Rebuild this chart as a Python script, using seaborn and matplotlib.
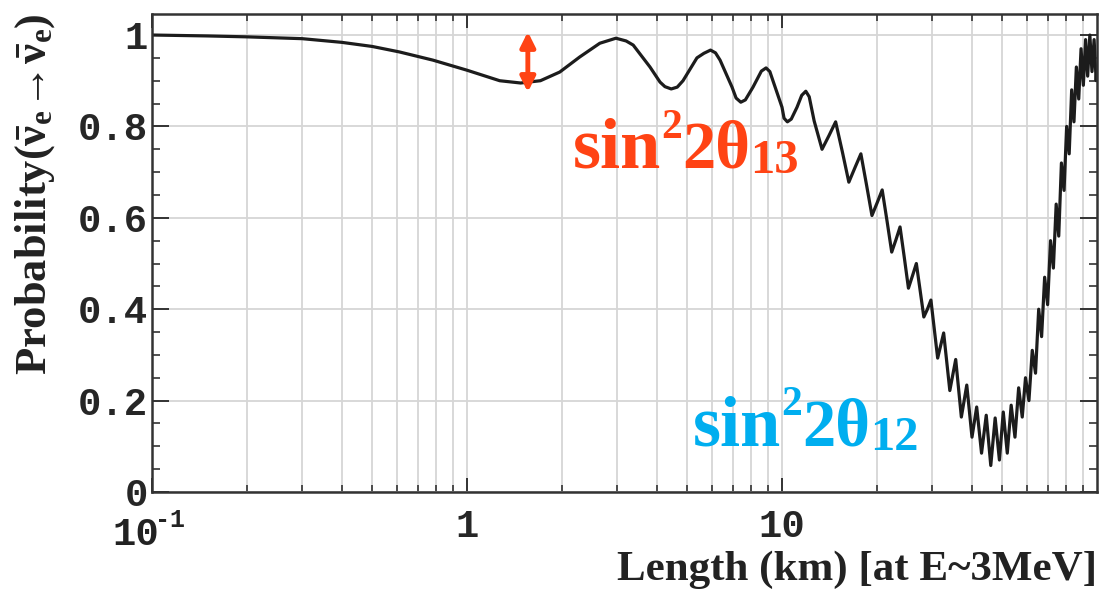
import numpy as np
import pandas as pd
import seaborn as sns
import matplotlib.pyplot as plt
import matplotlib.ticker as mticker

# survival probability, three stretches of the curve
near_km = [0.1, 0.15, 0.2, 0.3, 0.4, 0.5, 0.61, 0.78, 1.0, 1.27, 1.48, 1.71, 1.97,
           2.28, 2.64, 2.97, 3.2, 3.37, 3.81, 4.1, 4.25, 4.45, 4.65, 4.85, 5.37,
           5.65, 5.93, 6.15, 6.36, 6.94, 7.15, 7.4, 7.65, 8.09, 8.6, 8.9, 9.15,
           9.36, 10.0, 10.15, 10.4, 10.7, 11.16, 11.55, 11.9, 12.2]
near_prob = [1.0, 0.998, 0.996, 0.992, 0.984, 0.975, 0.963, 0.945, 0.923, 0.90,
             0.895, 0.90, 0.919, 0.952, 0.982, 0.993, 0.987, 0.978, 0.93, 0.897,
             0.887, 0.882, 0.886, 0.90, 0.95, 0.960, 0.967, 0.961, 0.945, 0.886,
             0.862, 0.853, 0.858, 0.886, 0.921, 0.928, 0.920, 0.90, 0.842, 0.818,
             0.81, 0.816, 0.842, 0.868, 0.877, 0.865]

mid_km = [12.65, 13.4, 14.1, 14.8, 15.55, 16.3, 17.05, 17.8, 18.55, 19.3, 20.05,
          20.8, 21.55, 22.3, 23.0, 23.7, 24.45, 25.2, 25.95, 26.7, 27.45, 28.2,
          28.95]
mid_prob = [0.812, 0.75, 0.78, 0.81, 0.744, 0.678, 0.71, 0.74, 0.672, 0.605, 0.633,
            0.661, 0.593, 0.525, 0.552, 0.58, 0.513, 0.446, 0.473, 0.50, 0.441,
            0.383, 0.40]

far_km = [29.7, 31.2, 32.6, 34.1, 35.6, 37.1, 38.6, 40.1, 41.5, 43.0, 44.5, 46.0,
          47.5, 49.0, 50.4, 51.9, 53.4, 54.9, 56.4, 57.9, 59.3, 60.8, 62.3, 63.8,
          65.3, 66.7, 68.2, 69.7, 71.2, 72.7, 74.2, 75.6, 77.1, 78.6, 80.1, 81.6,
          83.1, 84.5, 86.0, 87.5, 89.0, 90.5, 92.0, 93.4, 94.9, 96.4, 97.9, 99.4,
          100.0]
far_prob = [0.42, 0.293, 0.348, 0.222, 0.29, 0.164, 0.234, 0.12, 0.186, 0.085,
            0.168, 0.058, 0.162, 0.07, 0.175, 0.085, 0.19, 0.12, 0.228, 0.164,
            0.25, 0.20, 0.31, 0.26, 0.40, 0.34, 0.47, 0.41, 0.55, 0.49, 0.63, 0.56,
            0.72, 0.66, 0.80, 0.74, 0.88, 0.81, 0.93, 0.86, 0.97, 0.89, 0.99, 0.91,
            1.0, 0.92, 0.99, 0.90, 0.93]

y_ticks = [0, 0.2, 0.4, 0.6, 0.8, 1.0]
y_labels = ["0", "0.2", "0.4", "0.6", "0.8", "1"]
x_ticks = [0.1, 1, 10]
x_labels = ["", "1", "10"]   # 10^-1 is written by hand below

red = "#ff4314"
cyan = "#00aeef"
mono = ["Liberation Mono", "DejaVu Sans Mono"]

sns.set_style("ticks")
plt.rcParams["mathtext.fontset"] = "custom"
plt.rcParams["mathtext.rm"] = "Liberation Serif:bold"
plt.rcParams["mathtext.it"] = "Liberation Serif:bold"
plt.rcParams["mathtext.bf"] = "Liberation Serif:bold"

W, H = 1104, 590
fig = plt.figure(figsize=(W / 100, H / 100), dpi=100)
ax = fig.add_axes([152 / W, 1 - 492 / H, (1097 - 152) / W, (492 - 14) / H])

df = pd.DataFrame({"length_km": near_km + mid_km + far_km,
                   "probability": near_prob + mid_prob + far_prob})
sns.lineplot(data=df, x="length_km", y="probability", ax=ax, color="#1c1c1c",
             linewidth=2.3, estimator=None, sort=False)

ax.set_xscale("log")
ax.set_xlim(0.1, 100)
ax.set_ylim(0, 1.046)
ax.set_xlabel("")
ax.set_ylabel("")

ax.xaxis.set_major_locator(mticker.FixedLocator(x_ticks))
ax.xaxis.set_minor_locator(mticker.LogLocator(base=10, subs=np.arange(2, 10)))
ax.xaxis.set_minor_formatter(mticker.NullFormatter())
ax.set_xticklabels(x_labels, fontfamily=mono, fontweight="bold", fontsize=28)
ax.set_yticks(y_ticks)
ax.yaxis.set_minor_locator(mticker.MultipleLocator(0.05))
ax.set_yticklabels(y_labels, fontfamily=mono, fontweight="bold", fontsize=28)

ax.grid(which="both", axis="x", color="#d6d6d6", linewidth=1.3)
ax.grid(which="major", axis="y", color="#d6d6d6", linewidth=1.3)
ax.set_axisbelow(True)

ax.tick_params(which="both", direction="in", top=True, right=True, color="#333333")
ax.tick_params(axis="y", which="major", length=12, width=1.4, pad=3)
ax.tick_params(axis="y", which="minor", length=6, width=1.2)
ax.tick_params(axis="x", which="major", length=10, width=1.4, pad=12)
ax.tick_params(axis="x", which="minor", length=5, width=1.2)
for sp in ax.spines.values():
    sp.set_linewidth(1.8)
    sp.set_color("#333333")

# first tick label as 10 with a raised -1
ax.annotate("10", xy=(0.1, 0), xycoords="data", xytext=(5, -38),
            textcoords="offset points", ha="right", va="baseline",
            fontsize=28, fontfamily=mono, fontweight="bold", color="#222222")
ax.annotate("-1", xy=(0.1, 0), xycoords="data", xytext=(2, -25),
            textcoords="offset points", ha="left", va="baseline",
            fontsize=18, fontfamily=mono, fontweight="bold", color="#222222")

# size of the dip for theta13
ax.annotate("", xy=(1.56, 0.875), xytext=(1.56, 1.007),
            arrowprops=dict(arrowstyle="<|-|>", color=red, lw=3.5,
                            mutation_scale=22, shrinkA=0, shrinkB=0))

fig.text(35 / W, 1 - 13 / H,
         r"Probability($\bar{\nu}_{e}\!\rightarrow\!\bar{\nu}_{e}$)",
         rotation=90, ha="center", va="top", fontsize=32,
         fontfamily="Liberation Serif", fontweight="bold", color="#222222")
fig.text(1097 / W, 1 - 580 / H, "Length (km) [at E~3MeV]", ha="right",
         va="baseline", fontsize=31, fontfamily="Liberation Serif",
         fontweight="bold", color="#222222")


def write_pieces(x0, base, pieces, color):
    renderer = fig.canvas.get_renderer()
    x = x0
    for s, size, dy in pieces:
        t = fig.text(x / W, 1 - (base + dy) / H, s, fontsize=size, color=color,
                     fontfamily="Liberation Serif", fontweight="bold",
                     ha="left", va="baseline")
        x = t.get_window_extent(renderer).x1


write_pieces(573, 168, [("sin", 52, 0), ("2", 30, -30), ("2\u03b8", 48, 0),
                        ("13", 35, 5)], red)
write_pieces(693, 445, [("sin", 52, 0), ("2", 30, -30), ("2\u03b8", 48, 0),
                        ("12", 35, 5)], cyan)

fig.savefig("out.png", dpi=100)
